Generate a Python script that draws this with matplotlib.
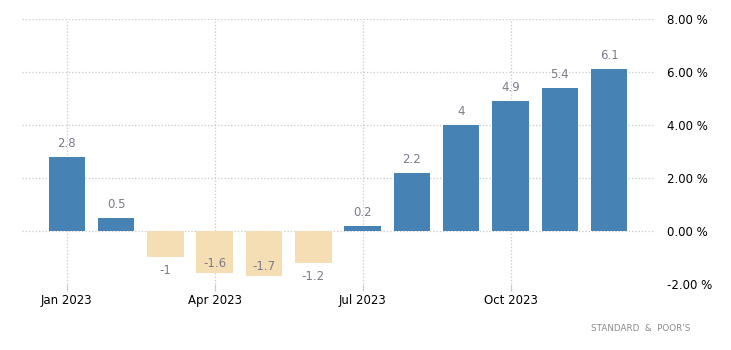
import matplotlib
matplotlib.use('Agg')
import matplotlib.pyplot as plt

# monthly change, 2023
months = ['Jan', 'Feb', 'Mar', 'Apr', 'May', 'Jun', 'Jul', 'Aug', 'Sep', 'Oct', 'Nov', 'Dec']
values = [2.8, 0.5, -1.0, -1.6, -1.7, -1.2, 0.2, 2.2, 4.0, 4.9, 5.4, 6.1]
tick_idx = [0, 3, 6, 9]
tick_labels = ['Jan 2023', 'Apr 2023', 'Jul 2023', 'Oct 2023']
y_ticks = [-2, 0, 2, 4, 6, 8]

fig = plt.figure(figsize=(7.31, 3.5), dpi=100)
ax = fig.add_axes([0.030, 0.189, 0.866, 0.757])

x = list(range(len(values)))
colors = ['#4682B4' if v >= 0 else '#F5DEB3' for v in values]
ax.bar(x, values, width=0.74, color=colors, zorder=2)

# value labels
for i, v in zip(x, values):
    if v >= 0:
        ax.annotate(f'{v:g}', (i, v), xytext=(0, 5), textcoords='offset points',
                    ha='center', va='bottom', fontsize=8.5, color='#7d7a8c')
    elif v - 0.55 > -1.85:
        ax.annotate(f'{v:g}', (i, v), xytext=(0, -5), textcoords='offset points',
                    ha='center', va='top', fontsize=8.5, color='#7d7a8c')
    else:
        ax.annotate(f'{v:g}', (i, v), xytext=(0, 2), textcoords='offset points',
                    ha='center', va='bottom', fontsize=8.5, color='#7d7a8c')

ax.set_xlim(-0.91, 11.93)
ax.set_ylim(-2, 8)
ax.set_xticks(tick_idx)
ax.set_xticklabels(tick_labels)
ax.set_yticks(y_ticks)
ax.set_yticklabels([f'{t:.2f} %' for t in y_ticks])
ax.yaxis.tick_right()

ax.grid(True, color='#c8c8c8', linestyle=':', linewidth=0.9, zorder=0)
ax.set_axisbelow(True)
for s in ax.spines.values():
    s.set_visible(False)

ax.tick_params(axis='y', length=0, pad=9, labelsize=8.5, labelcolor='black')
ax.tick_params(axis='x', length=5, color='#c8c8c8', width=0.8, pad=2,
               labelsize=8.5, labelcolor='black')

fig.text(0.944, 0.062, "STANDARD  &  POOR'S", ha='right', va='center',
         fontsize=6.3, color='#8a8a8a')

fig.savefig('out.png', dpi=100)
